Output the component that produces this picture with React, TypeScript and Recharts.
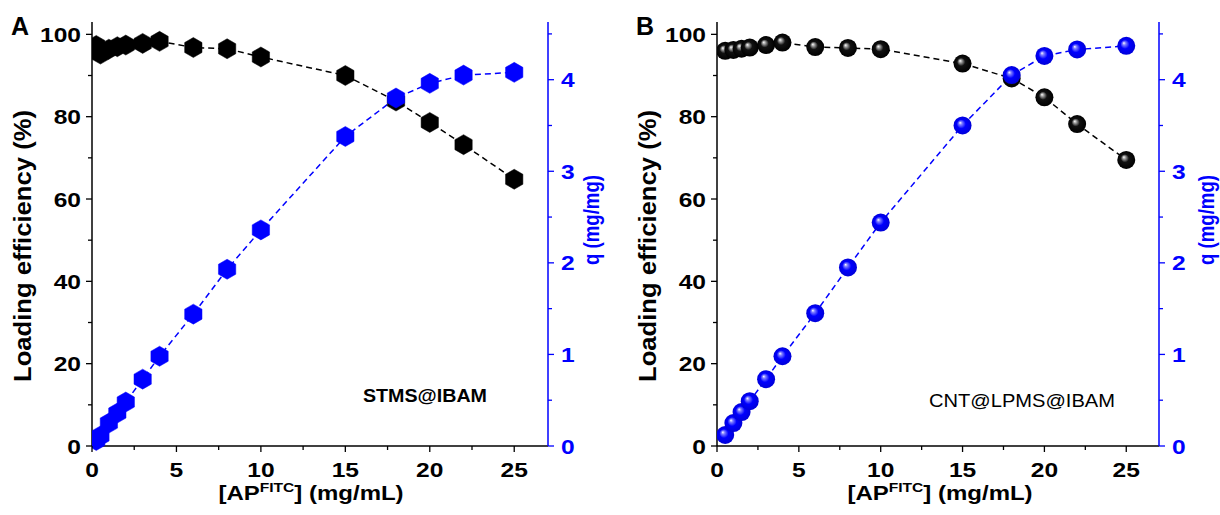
import React from 'react';
import { ComposedChart, Line, XAxis, YAxis, Customized } from 'recharts';

const FONT = "'Liberation Sans', Arial, sans-serif";
const BLUE = '#0000ff';
const INK = '#000000';
const SX = 1.17;

// ---- data ----
const concA = [0.25, 0.5, 1, 1.5, 2, 3, 4, 6, 8, 10, 15, 18, 20, 22, 25];
const effA = [97.3, 95.2, 96.4, 97.0, 97.4, 97.8, 98.3, 96.8, 96.5, 94.5, 90.0, 83.8, 78.6, 73.2, 64.8];
const qA = [0.06, 0.11, 0.25, 0.36, 0.48, 0.73, 0.98, 1.44, 1.93, 2.36, 3.38, 3.8, 3.96, 4.05, 4.08];

const concB = [0.5, 1, 1.5, 2, 3, 4, 6, 8, 10, 15, 18, 20, 22, 25];
const effB = [96.0, 96.2, 96.5, 96.8, 97.4, 98.0, 96.9, 96.7, 96.4, 92.9, 89.3, 84.7, 78.2, 69.5];
const qB = [0.12, 0.25, 0.37, 0.49, 0.73, 0.98, 1.45, 1.95, 2.44, 3.5, 4.05, 4.26, 4.33, 4.37];

const xTicks = [0, 2.5, 5, 7.5, 10, 12.5, 15, 17.5, 20, 22.5, 25];
const leftTicks = [0, 10, 20, 30, 40, 50, 60, 70, 80, 90, 100];
const rightTicks = [0, 0.5, 1, 1.5, 2, 2.5, 3, 3.5, 4, 4.5];

const dataA = concA.map((x, i) => ({ x, le: effA[i], q: qA[i] }));
const dataB = concB.map((x, i) => ({ x, le: effB[i], q: qB[i] }));

const tickFont = { fontFamily: FONT, fontWeight: 700, fontSize: 21 };

const XTick = (props: any) => {
  const { x, y, payload } = props;
  const major = payload.value % 5 === 0;
  return (
    <g>
      <line x1={x} x2={x} y1={y} y2={y + (major ? 6 : 4)} stroke={INK} strokeWidth={1.3} />
      {major && (
        <text transform={`translate(${x},${y + 31}) scale(${SX},1)`} textAnchor="middle" fill={INK} {...tickFont}>
          {payload.value}
        </text>
      )}
    </g>
  );
};

const LeftTick = (props: any) => {
  const { x, y, payload } = props;
  const major = payload.value % 20 === 0;
  return (
    <g>
      <line x1={x} x2={x - (major ? 6 : 4)} y1={y} y2={y} stroke={INK} strokeWidth={1.3} />
      {major && (
        <text transform={`translate(${x - 11},${y + 7.5}) scale(${SX},1)`} textAnchor="end" fill={INK} {...tickFont}>
          {payload.value}
        </text>
      )}
    </g>
  );
};

const RightTick = (props: any) => {
  const { x, y, payload } = props;
  const major = payload.value % 1 === 0;
  return (
    <g>
      <line x1={x} x2={x + (major ? 6 : 4)} y1={y} y2={y} stroke={BLUE} strokeWidth={1.3} />
      {major && (
        <text transform={`translate(${x + 13},${y + 7.5}) scale(${SX},1)`} textAnchor="start" fill={BLUE} {...tickFont}>
          {payload.value}
        </text>
      )}
    </g>
  );
};

const hexDot = (fill: string) => (props: any) => {
  const { cx, cy, index } = props;
  if (cx == null || cy == null) return <g key={`h${index}`} />;
  const R = 10;
  const pts = [-90, -30, 30, 90, 150, 210]
    .map((a) => {
      const r = (a * Math.PI) / 180;
      return `${cx + R * Math.cos(r)},${cy + R * Math.sin(r)}`;
    })
    .join(' ');
  return <polygon key={`h${index}`} points={pts} fill={fill} stroke={fill} strokeWidth={0.5} />;
};

const ballDot = (grad: string) => (props: any) => {
  const { cx, cy, index } = props;
  if (cx == null || cy == null) return <g key={`b${index}`} />;
  return <circle key={`b${index}`} cx={cx} cy={cy} r={9} fill={`url(#${grad})`} />;
};

type PanelProps = {
  data: any[];
  marginLeft: number;
  marginRight: number;
  letter: string;
  letterX: number;
  leftTitleX: number;
  rightTitleX: number;
  xTitleX: number;
  note: string;
  noteX: number;
  noteY: number;
  noteWeight: number;
  noteLen: number;
  balls: boolean;
};

const Panel = (p: PanelProps) => {
  const texts = () => (
    <g>
      <text x={p.letterX} y={35} fontFamily={FONT} fontWeight={700} fontSize={25} fill={INK}>
        {p.letter}
      </text>
      <text
        transform={`translate(${p.leftTitleX},246) rotate(-90) scale(1,1.12)`}
        textAnchor="middle"
        fontFamily={FONT}
        fontWeight={700}
        fontSize={21}
        textLength={272}
        lengthAdjust="spacingAndGlyphs"
        fill={INK}
      >
        Loading efficiency (%)
      </text>
      <text
        transform={`translate(${p.rightTitleX},220) rotate(-90) scale(1,1.12)`}
        textAnchor="middle"
        fontFamily={FONT}
        fontWeight={700}
        fontSize={19}
        textLength={90}
        lengthAdjust="spacingAndGlyphs"
        fill={BLUE}
      >
        q (mg/mg)
      </text>
      <text
        transform={`translate(${p.xTitleX},500) scale(1.2,1)`}
        textAnchor="middle"
        fontFamily={FONT}
        fontWeight={700}
        fontSize={20}
        fill={INK}
      >
        [AP
        <tspan fontSize={13} dy={-8}>
          FITC
        </tspan>
        <tspan dy={8}>] (mg/mL)</tspan>
      </text>
      <text
        x={p.noteX}
        y={p.noteY}
        fontFamily={FONT}
        fontWeight={p.noteWeight}
        fontSize={18}
        textLength={p.noteLen}
        lengthAdjust="spacingAndGlyphs"
        fill={INK}
      >
        {p.note}
      </text>
    </g>
  );
  return (
    <ComposedChart
      width={610}
      height={515}
      data={p.data}
      margin={{ top: 22, bottom: 29, left: p.marginLeft, right: p.marginRight }}
    >
      <XAxis
        xAxisId="bottom"
        type="number"
        dataKey="x"
        domain={[0, 27]}
        ticks={xTicks}
        interval={0}
        allowDataOverflow
        height={40}
        tickSize={0}
        tickMargin={0}
        tickLine={false}
        axisLine={{ stroke: INK, strokeWidth: 1.5 }}
        tick={<XTick />}
      />
      <XAxis
        xAxisId="top"
        orientation="top"
        type="number"
        dataKey="x"
        domain={[0, 27]}
        height={0}
        tick={false}
        tickLine={false}
        axisLine={{ stroke: '#222', strokeWidth: 1.5 }}
      />
      <YAxis
        yAxisId="left"
        orientation="left"
        type="number"
        domain={[0, 103]}
        ticks={leftTicks}
        interval={0}
        width={60}
        tickSize={0}
        tickMargin={0}
        tickLine={false}
        axisLine={{ stroke: INK, strokeWidth: 1.5 }}
        tick={<LeftTick />}
      />
      <YAxis
        yAxisId="right"
        orientation="right"
        type="number"
        domain={[0, 4.63]}
        ticks={rightTicks}
        interval={0}
        width={40}
        tickSize={0}
        tickMargin={0}
        tickLine={false}
        axisLine={{ stroke: BLUE, strokeWidth: 1.5 }}
        tick={<RightTick />}
      />
      <Line
        xAxisId="bottom"
        yAxisId="left"
        dataKey="le"
        type="linear"
        stroke={INK}
        strokeWidth={1.5}
        strokeDasharray="6 4"
        dot={p.balls ? ballDot('ballBlack') : hexDot(INK)}
        activeDot={false}
        isAnimationActive={false}
      />
      <Line
        xAxisId="bottom"
        yAxisId="right"
        dataKey="q"
        type="linear"
        stroke={BLUE}
        strokeWidth={1.5}
        strokeDasharray="6 4"
        dot={p.balls ? ballDot('ballBlue') : hexDot(BLUE)}
        activeDot={false}
        isAnimationActive={false}
      />
      <Customized component={texts} />
    </ComposedChart>
  );
};

export default function App() {
  return (
    <div style={{ position: 'absolute', left: 0, top: 0, width: 1220, height: 515, background: '#fff' }}>
      <svg width={0} height={0} style={{ position: 'absolute' }}>
        <defs>
          <radialGradient id="ballBlack" cx="0.5" cy="0.5" r="0.5" fx="0.36" fy="0.34">
            <stop offset="0" stopColor="#ffffff" />
            <stop offset="0.18" stopColor="#9a9a9a" />
            <stop offset="0.45" stopColor="#111111" />
            <stop offset="1" stopColor="#000000" />
          </radialGradient>
          <radialGradient id="ballBlue" cx="0.5" cy="0.5" r="0.5" fx="0.36" fy="0.34">
            <stop offset="0" stopColor="#ffffff" />
            <stop offset="0.18" stopColor="#8080ff" />
            <stop offset="0.5" stopColor="#0000ff" />
            <stop offset="1" stopColor="#0000d8" />
          </radialGradient>
        </defs>
      </svg>
      <div style={{ position: 'absolute', left: 0, top: 0 }}>
        <Panel
          data={dataA}
          marginLeft={32}
          marginRight={22}
          letter="A"
          letterX={11}
          leftTitleX={31}
          rightTitleX={599}
          xTitleX={311}
          note="STMS@IBAM"
          noteX={363}
          noteY={402}
          noteWeight={700}
          noteLen={124}
          balls={false}
        />
      </div>
      <div style={{ position: 'absolute', left: 610, top: 0 }}>
        <Panel
          data={dataB}
          marginLeft={47}
          marginRight={21}
          letter="B"
          letterX={26}
          leftTitleX={46}
          rightTitleX={604}
          xTitleX={330}
          note="CNT@LPMS@IBAM"
          noteX={319}
          noteY={407}
          noteWeight={400}
          noteLen={186}
          balls={true}
        />
      </div>
    </div>
  );
}
